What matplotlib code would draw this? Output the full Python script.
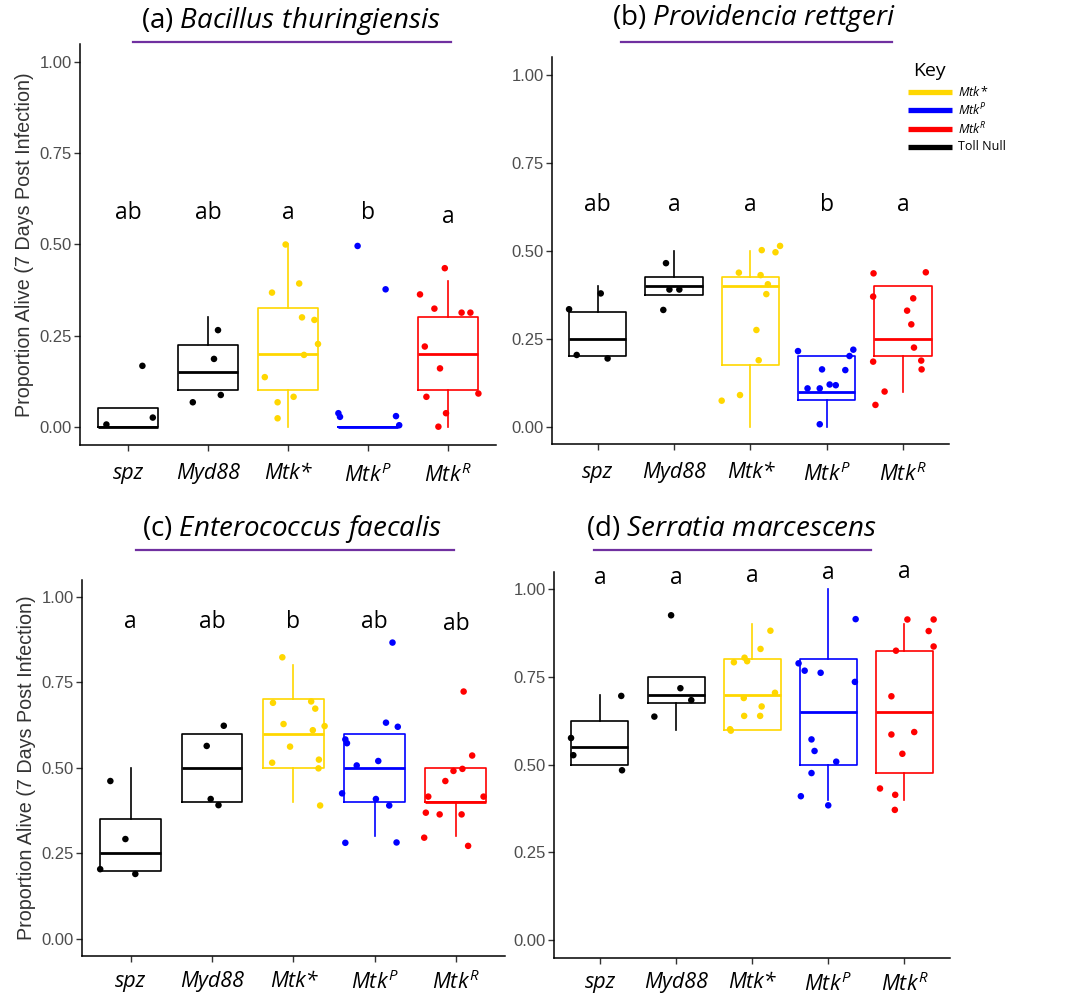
import matplotlib
matplotlib.use('Agg')
import matplotlib.pyplot as plt
from matplotlib.lines import Line2D

FONT = 'Open Sans'
plt.rcParams['mathtext.fontset'] = 'custom'
plt.rcParams['mathtext.rm'] = FONT
plt.rcParams['mathtext.it'] = FONT + ':italic'
plt.rcParams['mathtext.bf'] = FONT + ':bold'

W, H = 1074, 997

# ---------------- data ----------------
categories = ['spz', 'Myd88', 'Mtk*', 'MtkP', 'MtkR']
tick_labels = ['spz', 'Myd88', 'Mtk*', r'$\mathit{Mtk}^{\mathit{P}}$', r'$\mathit{Mtk}^{\mathit{R}}$']
group_colors = ['#000000', '#000000', '#FFD700', '#0000FF', '#FF0000']
titles = [r'(a) $\mathit{Bacillus\ thuringiensis}$', r'(b) $\mathit{Providencia\ rettgeri}$',
          r'(c) $\mathit{Enterococcus\ faecalis}$', r'(d) $\mathit{Serratia\ marcescens}$']

# box statistics (q1, median, q3, whisker low, whisker high) per panel
a_q1 = [0.00, 0.10, 0.10, 0.00, 0.10]
a_med = [0.00, 0.15, 0.20, 0.00, 0.20]
a_q3 = [0.05, 0.225, 0.325, 0.00, 0.30]
a_lo = [0.00, 0.10, 0.00, 0.00, 0.00]
a_hi = [0.05, 0.30, 0.50, 0.00, 0.40]

b_q1 = [0.20, 0.375, 0.175, 0.075, 0.20]
b_med = [0.25, 0.40, 0.40, 0.10, 0.25]
b_q3 = [0.325, 0.425, 0.425, 0.20, 0.40]
b_lo = [0.20, 0.375, 0.00, 0.00, 0.10]
b_hi = [0.40, 0.50, 0.50, 0.20, 0.40]

c_q1 = [0.20, 0.40, 0.50, 0.40, 0.40]
c_med = [0.25, 0.50, 0.60, 0.50, 0.40]
c_q3 = [0.35, 0.60, 0.70, 0.60, 0.50]
c_lo = [0.20, 0.40, 0.40, 0.30, 0.30]
c_hi = [0.50, 0.60, 0.80, 0.60, 0.50]

d_q1 = [0.50, 0.675, 0.60, 0.50, 0.475]
d_med = [0.55, 0.70, 0.70, 0.65, 0.65]
d_q3 = [0.625, 0.75, 0.80, 0.80, 0.825]
d_lo = [0.50, 0.60, 0.60, 0.40, 0.40]
d_hi = [0.70, 0.75, 0.90, 1.00, 0.90]

# jittered replicate points: values and horizontal jitter offsets
a_vals = [
    [0.006, 0.167, 0.025],
    [0.067, 0.265, 0.186, 0.087],
    [0.50, 0.368, 0.393, 0.30, 0.293, 0.227, 0.197, 0.136, 0.082, 0.067, 0.023],
    [0.496, 0.377, 0.037, 0.027, 0.029, 0.004],
    [0.435, 0.363, 0.324, 0.313, 0.313, 0.22, 0.16, 0.091, 0.082, 0.037, 0.0],
]
a_jit = [
    [-0.27, 0.18, 0.31],
    [-0.19, 0.125, 0.075, 0.16],
    [-0.03, -0.2, 0.14, 0.175, 0.33, 0.375, 0.2, -0.29, 0.07, -0.13, -0.13],
    [-0.13, 0.22, -0.37, -0.35, 0.35, 0.39],
    [-0.04, -0.35, -0.17, 0.17, 0.28, -0.29, -0.1, 0.38, -0.27, -0.025, -0.12],
]
b_vals = [
    [0.334, 0.379, 0.204, 0.194],
    [0.465, 0.39, 0.39, 0.332],
    [0.502, 0.496, 0.514, 0.438, 0.431, 0.405, 0.377, 0.275, 0.189, 0.09, 0.074],
    [0.215, 0.219, 0.201, 0.163, 0.161, 0.109, 0.109, 0.12, 0.118, 0.007],
    [0.436, 0.439, 0.37, 0.365, 0.33, 0.291, 0.225, 0.185, 0.188, 0.163, 0.10, 0.062],
]
b_jit = [
    [-0.375, 0.04, -0.275, 0.13],
    [-0.105, -0.06, 0.07, -0.14],
    [0.15, 0.33, 0.39, -0.15, 0.135, 0.23, 0.21, 0.08, 0.11, -0.135, -0.375],
    [-0.375, 0.35, 0.30, -0.06, 0.245, -0.25, -0.09, 0.04, 0.12, -0.09],
    [-0.385, 0.30, -0.39, 0.135, 0.055, 0.11, 0.145, -0.39, 0.24, 0.245, -0.24, -0.36],
]
c_vals = [
    [0.4615, 0.292, 0.204, 0.19],
    [0.623, 0.564, 0.409, 0.391],
    [0.823, 0.69, 0.694, 0.673, 0.628, 0.61, 0.622, 0.562, 0.524, 0.515, 0.4985, 0.39],
    [0.866, 0.632, 0.62, 0.583, 0.572, 0.507, 0.52, 0.4255, 0.409, 0.39, 0.281, 0.282],
    [0.723, 0.536, 0.491, 0.497, 0.4615, 0.416, 0.416, 0.369, 0.364, 0.364, 0.296, 0.272],
]
c_jit = [
    [-0.25, -0.065, -0.375, 0.057],
    [0.145, -0.065, -0.016, 0.08],
    [-0.135, -0.25, 0.22, 0.27, -0.12, 0.24, 0.385, -0.04, 0.315, -0.26, 0.31, 0.33],
    [0.22, 0.14, 0.285, -0.36, -0.34, -0.22, 0.045, -0.40, 0.016, 0.18, -0.36, 0.27],
    [0.095, 0.20, -0.03, 0.08, -0.13, -0.34, 0.34, -0.37, -0.20, 0.07, -0.39, 0.15],
]
d_vals = [
    [0.696, 0.576, 0.527, 0.484],
    [0.926, 0.718, 0.684, 0.637],
    [0.882, 0.83, 0.805, 0.792, 0.795, 0.705, 0.69, 0.666, 0.639, 0.639, 0.601, 0.597],
    [0.915, 0.789, 0.768, 0.762, 0.736, 0.572, 0.539, 0.5085, 0.476, 0.41, 0.384],
    [0.914, 0.914, 0.881, 0.837, 0.825, 0.695, 0.586, 0.593, 0.531, 0.432, 0.414, 0.371],
]
d_jit = [
    [0.28, -0.38, -0.35, 0.29],
    [-0.065, 0.057, 0.20, -0.285],
    [0.24, 0.11, -0.10, -0.24, -0.066, 0.30, -0.11, 0.125, -0.105, 0.105, -0.29, -0.28],
    [0.36, -0.39, -0.31, -0.10, 0.35, -0.22, -0.18, 0.105, -0.22, -0.36, 0.0],
    [0.04, 0.385, 0.32, 0.385, -0.11, -0.17, -0.17, 0.13, -0.026, -0.32, -0.12, -0.125],
]

# significance letters and their heights
a_letters = ['ab', 'ab', 'a', 'b', 'a']
b_letters = ['ab', 'a', 'a', 'b', 'a']
c_letters = ['a', 'ab', 'b', 'ab', 'ab']
d_letters = ['a', 'a', 'a', 'a', 'a']
a_letter_y = [0.586, 0.586, 0.586, 0.586, 0.576]
b_letter_y = [0.63, 0.63, 0.63, 0.63, 0.63]
c_letter_y = [0.927, 0.927, 0.927, 0.927, 0.92]
d_letter_y = [1.032, 1.032, 1.037, 1.046, 1.05]

legend_labels = [r'$\mathit{Mtk*}$', r'$\mathit{Mtk}^{\mathit{P}}$', r'$\mathit{Mtk}^{\mathit{R}}$', 'Toll Null']
legend_colors = ['#FFD700', '#0000FF', '#FF0000', '#000000']

# ---------------- layout ----------------
fig = plt.figure(figsize=(W / 100, H / 100), dpi=100)


def frac_rect(left, right, top, bottom):
    return [left / W, 1 - bottom / H, (right - left) / W, (bottom - top) / H]


# axes rects in pixels (left, right, top, bottom)
rects = [
    (80, 496, 44.1, 444.9),
    (551.9, 948.7, 57.4, 444.3),
    (81.9, 504.7, 579.6, 956.1),
    (554.3, 950.0, 571.8, 957.5),
]
xpads = [9, 9, 6.5, 6.5]
title_pos = [(291, 21), (754, 18), (291.7, 529), (731, 529)]
underline = [(132.7, 450.7, 41.7), (620.7, 892, 41.7), (136, 454, 550), (594, 870.7, 550)]

panels = [
    (a_q1, a_med, a_q3, a_lo, a_hi, a_vals, a_jit, a_letters, a_letter_y),
    (b_q1, b_med, b_q3, b_lo, b_hi, b_vals, b_jit, b_letters, b_letter_y),
    (c_q1, c_med, c_q3, c_lo, c_hi, c_vals, c_jit, c_letters, c_letter_y),
    (d_q1, d_med, d_q3, d_lo, d_hi, d_vals, d_jit, d_letters, d_letter_y),
]

for pi, (q1, med, q3, lo, hi, vals, jit, letters, ly) in enumerate(panels):
    ax = fig.add_axes(frac_rect(*rects[pi]))
    for i in range(5):
        col = group_colors[i]
        st = dict(q1=q1[i], med=med[i], q3=q3[i], whislo=lo[i], whishi=hi[i], fliers=[])
        ax.bxp([st], positions=[i + 1], widths=0.75, showfliers=False, showcaps=False,
               patch_artist=False,
               boxprops=dict(color=col, linewidth=1.2),
               whiskerprops=dict(color=col, linewidth=1.2),
               medianprops=dict(color=col, linewidth=2.0, solid_capstyle='butt'),
               manage_ticks=False, zorder=2)
        xs = [i + 1 + j for j in jit[i]]
        ax.scatter(xs, vals[i], s=22, color=col, edgecolors='none', zorder=3)
        ax.text(i + 1, ly[i], letters[i], ha='center', va='center', fontsize=16.5,
                family=FONT, color='black')
    ax.set_xlim(0.4, 5.6)
    ax.set_ylim(-0.05, 1.05)
    ax.set_xticks(range(1, 6))
    ax.set_xticklabels(tick_labels)
    for lab in ax.get_xticklabels():
        lab.set_fontstyle('italic')
        lab.set_family(FONT)
        lab.set_fontsize(15.5)
        lab.set_color('black')
    ax.set_yticks([0, 0.25, 0.5, 0.75, 1.0])
    ax.set_yticklabels(['0.00', '0.25', '0.50', '0.75', '1.00'], family='Liberation Sans',
                       fontsize=12, color='#4D4D4D')
    ax.tick_params(axis='x', length=4, width=1, color='#333333', pad=xpads[pi])
    ax.tick_params(axis='y', length=4, width=1, color='#333333', pad=2)
    for s in ['top', 'right']:
        ax.spines[s].set_visible(False)
    for s in ['left', 'bottom']:
        ax.spines[s].set_linewidth(1.1)
        ax.spines[s].set_color('black')
    if pi in (0, 2):
        ax.set_ylabel('Proportion Alive (7 Days Post Infection)', family='Liberation Sans',
                      fontsize=14.2, color='#333333', labelpad=4)
    tx, ty = title_pos[pi]
    fig.text(tx / W, 1 - ty / H, titles[pi], ha='center', va='center', fontsize=20, family=FONT)
    x0, x1, yy = underline[pi]
    fig.add_artist(Line2D([x0 / W, x1 / W], [1 - yy / H, 1 - yy / H], color='#7030A0',
                          linewidth=1.6, transform=fig.transFigure))

# legend "Key" drawn in panel (b) area
fig.text(929 / W, 1 - 71 / H, 'Key', ha='center', va='center', fontsize=14, family=FONT)
rows_y = [92.3, 110.3, 128.7, 146.7]
for k in range(4):
    yy = 1 - rows_y[k] / H
    fig.add_artist(Line2D([908 / W, 951.7 / W], [yy, yy], color=legend_colors[k], linewidth=3.8,
                          transform=fig.transFigure, solid_capstyle='butt'))
    t = fig.text(958 / W, yy, legend_labels[k], ha='left', va='center', fontsize=9, family=FONT)
    if k < 3:
        t.set_fontstyle('italic')

fig.savefig('out.png', dpi=100)
